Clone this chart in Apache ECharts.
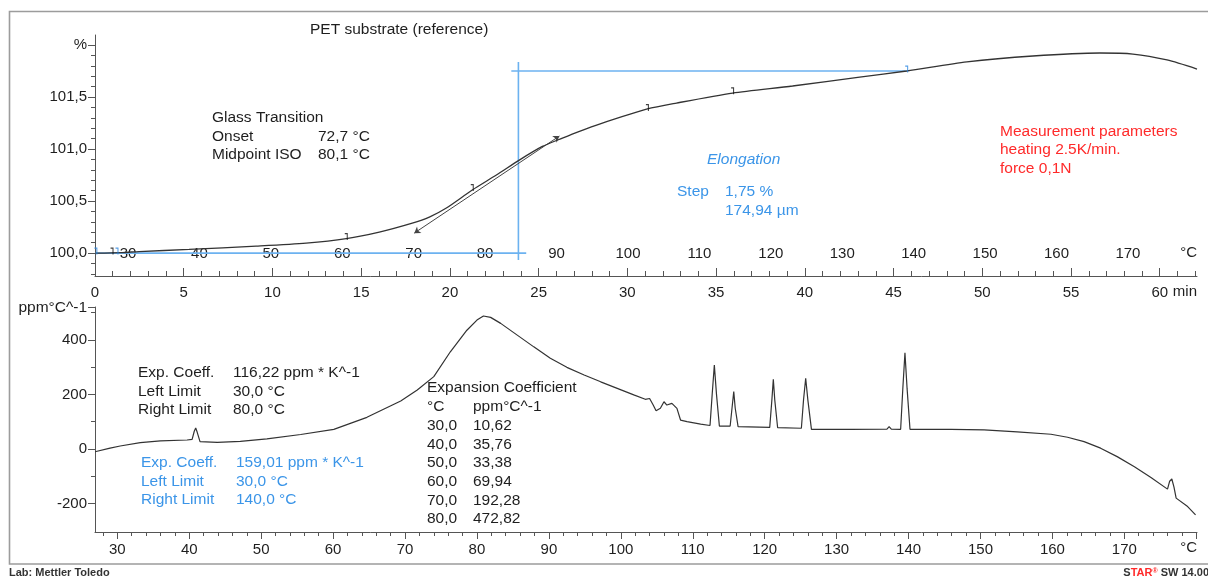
<!DOCTYPE html>
<html>
<head>
<meta charset="utf-8">
<script src="https://cdn.jsdelivr.net/npm/echarts@6/dist/echarts.min.js"></script>
<style>
  html, body { margin: 0; padding: 0; background: #fff; }
  #chart { width: 1208px; height: 578px; }
</style>
</head>
<body>
<div id="chart"></div>
<script>
// ---- Dilatometry curve: length change (%) against time (min) ----
const elongTime  = [0.00, 1.52, 2.48, 5.30, 9.08, 11.90, 14.16, 16.02, 17.88, 18.84, 19.80, 21.26, 22.62, 23.91, 25.21, 26.34, 27.30, 28.43, 31.13, 32.77, 35.93, 39.31, 43.09, 45.74, 49.13, 52.85, 56.63, 58.49, 60.41, 62.10];
const elongValue = [100.000, 100.005, 100.015, 100.035, 100.067, 100.096, 100.139, 100.202, 100.288, 100.346, 100.433, 100.606, 100.750, 100.894, 101.025, 101.105, 101.170, 101.240, 101.385, 101.442, 101.538, 101.606, 101.692, 101.750, 101.837, 101.894, 101.923, 101.913, 101.856, 101.769];

// ---- Expansion coefficient (ppm/°C) against temperature (°C) ----
const coeffTemp  = [26.9, 29.0, 30.4, 33.2, 36.0, 39.7, 40.4, 40.7, 40.9, 41.1, 41.5, 43.9, 47.1, 50.8, 55.5, 60.1, 64.7, 69.4, 71.7, 74.0, 76.3, 78.6, 80.0, 80.9, 81.9, 83.3, 85.6, 87.9, 90.2, 92.5, 94.9, 97.2, 99.5, 101.8, 103.4, 104.0, 104.5, 104.9, 105.5, 106.0, 106.4, 107.1, 107.8, 108.3, 109.2, 111.1, 112.4, 112.7, 113.0, 113.3, 113.7, 115.2, 115.5, 115.7, 115.9, 116.3, 120.7, 121.0, 121.2, 121.4, 121.8, 125.1, 125.4, 125.7, 126.0, 126.5, 131.9, 137.0, 137.3, 137.6, 138.9, 139.2, 139.5, 139.8, 140.2, 145.9, 150.5, 155.1, 159.8, 162.1, 164.4, 166.7, 169.0, 171.4, 173.7, 176.0, 176.3, 176.6, 176.9, 177.2, 178.8, 179.9];
const coeffValue = [-10, 3, 11, 23, 30, 33, 35, 65, 77, 62, 27, 24, 28, 37, 53, 72, 116, 176, 216, 265, 356, 435, 472, 487, 482, 460, 417, 374, 332, 299, 271, 246, 222, 198, 182, 185, 161, 140, 149, 173, 161, 167, 149, 106, 100, 91, 86, 200, 307, 200, 84, 84, 160, 210, 150, 82, 79, 180, 255, 180, 78, 76, 180, 259, 180, 72, 72, 73, 82, 73, 72, 220, 352, 220, 72, 72, 70, 63, 54, 43, 27, 3, -28, -65, -104, -147, -118, -110, -140, -180, -211, -241];

// ---- Evaluation markers on the length curve ----
const markBlackTime  = [0.96, 14.16, 21.26, 31.13, 35.93];
const markBlackValue = [100.02, 100.16, 100.63, 101.40, 101.56];
const markBlueTime   = [0.05, 1.24, 45.74];
const markBlueValue  = [100.02, 100.02, 101.77];

// ---- Step evaluation (1,75 %) ----
const stepLow = 100.0, stepHigh = 101.75, stepTime = 23.86;
const stepLowEnd = 24.3, stepHighStart = 23.46, stepHighEnd = 45.74;
// inflection tangent
const tangentTime  = [17.99, 26.17];
const tangentValue = [100.192, 101.125];

// ---- Tick values ----
const timeLabels   = [0, 5, 10, 15, 20, 25, 30, 35, 40, 45, 50, 55, 60];
const timeMinor    = [1,2,3,4,6,7,8,9,11,12,13,14,16,17,18,19,21,22,23,24,26,27,28,29,31,32,33,34,36,37,38,39,41,42,43,44,46,47,48,49,51,52,53,54,56,57,58,59,61,62];
const pctLabels    = [100.0, 100.5, 101.0, 101.5, 102.0];
const pctMinor     = [99.8, 99.9, 100.1, 100.2, 100.3, 100.4, 100.6, 100.7, 100.8, 100.9, 101.1, 101.2, 101.3, 101.4, 101.6, 101.7, 101.8, 101.9];
const tempLabelsTop = [30, 40, 50, 60, 70, 80, 90, 100, 110, 120, 130, 140, 150, 160, 170];
const tempLabels   = [30, 40, 50, 60, 70, 80, 90, 100, 110, 120, 130, 140, 150, 160, 170];
const tempMajorTicks = [30, 40, 50, 60, 70, 80, 90, 100, 110, 120, 130, 140, 150, 160, 170, 180];
const tempMinor    = [28,32,34,36,38,42,44,46,48,52,54,56,58,62,64,66,68,72,74,76,78,82,84,86,88,92,94,96,98,102,104,106,108,112,114,116,118,122,124,126,128,132,134,136,138,142,144,146,148,152,154,156,158,162,164,166,168,172,174,176,178];
const ppmLabels    = [-200, 0, 200, 400];
const ppmMajorTicks = [-200, 0, 200, 400, 520];
const ppmMinor     = [-100, 100, 300, 500];

// ---- Table of evaluated coefficients ----
const tableTemp  = ['30,0', '40,0', '50,0', '60,0', '70,0', '80,0'];
const tableCoeff = ['10,62', '35,76', '33,38', '69,94', '192,28', '472,82'];

const FONT = '"Liberation Sans", Arial, Helvetica, sans-serif';
const AXIS_COLOR = '#555';
const TEXT_COLOR = '#1e1e1e';
const BLUE_TEXT = '#3b95e8';
const BLUE_LINE = '#6cb2f0';
const RED_TEXT = '#ff2a2a';
const NOTE_SIZE = 15.5;

const pairs = (xs, ys) => xs.map((x, i) => [x, ys[i]]);
const comma = (v, d) => v.toFixed(d).replace('.', ',');

const chart = echarts.init(document.getElementById('chart'), null, { renderer: 'canvas' });

const labelStyle = { color: TEXT_COLOR, fontFamily: FONT, fontSize: 15 };

// an axis that only contributes tick marks
function tickAxis(base, ticks, len, inside) {
  return Object.assign({
    type: 'value',
    splitLine: { show: false },
    axisLine: { show: false, onZero: false },
    axisLabel: { show: false },
    axisTick: { show: true, customValues: ticks, length: len, inside: !!inside, lineStyle: { color: AXIS_COLOR, width: 1 } }
  }, base);
}

const T_TOP_MIN = 25.38, T_TOP_MAX = 179.67;

const option = {
  backgroundColor: '#ffffff',
  animation: false,
  grid: [
    { left: 95, right: 11, top: 35, height: 241 },
    { left: 95, right: 11, top: 307, height: 225 }
  ],
  xAxis: [
    // 0: time axis of the length curve
    {
      type: 'value', gridIndex: 0, position: 'bottom', min: 0, max: 62.1,
      splitLine: { show: false },
      axisLine: { show: true, onZero: false, lineStyle: { color: AXIS_COLOR, width: 1 } },
      axisTick: { show: true, customValues: timeLabels, inside: true, length: 8, lineStyle: { color: AXIS_COLOR } },
      axisLabel: Object.assign({ customValues: timeLabels, margin: 9 }, labelStyle)
    },
    // 1: temperature labels drawn inside the upper plot
    {
      type: 'value', gridIndex: 0, position: 'bottom', min: T_TOP_MIN, max: T_TOP_MAX,
      splitLine: { show: false },
      axisLine: { show: false, onZero: false },
      axisTick: { show: false },
      axisLabel: Object.assign({ customValues: tempLabelsTop, inside: true, margin: 15 }, labelStyle)
    },
    // 2: minor time ticks
    tickAxis({ gridIndex: 0, position: 'bottom', min: 0, max: 62.1 }, timeMinor, 5, true),
    // 3: temperature axis of the coefficient curve
    {
      type: 'value', gridIndex: 1, position: 'bottom', min: 26.9, max: 180.1,
      splitLine: { show: false },
      axisLine: { show: true, onZero: false, lineStyle: { color: AXIS_COLOR, width: 1 } },
      axisTick: { show: true, customValues: tempMajorTicks, length: 7, lineStyle: { color: AXIS_COLOR } },
      axisLabel: Object.assign({ customValues: tempLabels, margin: 10 }, labelStyle)
    },
    // 4: minor temperature ticks
    tickAxis({ gridIndex: 1, position: 'bottom', min: 26.9, max: 180.1 }, tempMinor, 4, false)
  ],
  yAxis: [
    // 0: length change in %
    {
      type: 'value', gridIndex: 0, position: 'left', min: 99.78, max: 102.096,
      splitLine: { show: false },
      axisLine: { show: true, onZero: false, lineStyle: { color: AXIS_COLOR, width: 1 } },
      axisTick: { show: true, customValues: pctLabels, length: 7, lineStyle: { color: AXIS_COLOR } },
      axisLabel: Object.assign({
        customValues: pctLabels, margin: 8,
        formatter: v => (Math.abs(v - 102) < 1e-6 ? '%' : comma(v, 1))
      }, labelStyle)
    },
    // 1: minor % ticks
    tickAxis({ gridIndex: 0, position: 'left', min: 99.78, max: 102.096 }, pctMinor, 4, false),
    // 2: expansion coefficient
    {
      type: 'value', gridIndex: 1, position: 'left', min: -304, max: 520,
      splitLine: { show: false },
      axisLine: { show: true, onZero: false, lineStyle: { color: AXIS_COLOR, width: 1 } },
      axisTick: { show: true, customValues: ppmMajorTicks, length: 7, lineStyle: { color: AXIS_COLOR } },
      axisLabel: Object.assign({ customValues: ppmLabels, margin: 8 }, labelStyle)
    },
    // 3: minor coefficient ticks
    tickAxis({ gridIndex: 1, position: 'left', min: -304, max: 520 }, ppmMinor, 4, false)
  ],
  series: [
    {
      name: 'length change', type: 'line', xAxisIndex: 0, yAxisIndex: 0,
      data: pairs(elongTime, elongValue), showSymbol: false, smooth: 0.25,
      lineStyle: { color: '#333', width: 1.3 }, z: 3
    },
    {
      name: 'baseline', type: 'line', xAxisIndex: 0, yAxisIndex: 0,
      data: [[0, stepLow], [stepLowEnd, stepLow]], showSymbol: false,
      lineStyle: { color: BLUE_LINE, width: 1.6 }, z: 2
    },
    {
      name: 'step', type: 'line', xAxisIndex: 0, yAxisIndex: 0,
      data: [[stepTime, 101.837], [stepTime, 99.933]], showSymbol: false,
      lineStyle: { color: BLUE_LINE, width: 1.6 }, z: 2
    },
    {
      name: 'upper level', type: 'line', xAxisIndex: 0, yAxisIndex: 0,
      data: [[stepHighStart, stepHigh], [stepHighEnd, stepHigh]], showSymbol: false,
      lineStyle: { color: BLUE_LINE, width: 1.6 }, z: 2
    },
    {
      name: 'tangent', type: 'lines', coordinateSystem: 'cartesian2d', xAxisIndex: 0, yAxisIndex: 0,
      data: [{ coords: pairs(tangentTime, tangentValue) }],
      symbol: ['arrow', 'arrow'], symbolSize: 6,
      lineStyle: { color: '#444', width: 1, opacity: 1 }, z: 3
    },
    {
      name: 'limits', type: 'scatter', xAxisIndex: 0, yAxisIndex: 0,
      data: pairs(markBlackTime, markBlackValue),
      symbol: 'path://M0 0 L4 0 L4 8 L2.6 8 L2.6 1.4 L0 1.4 Z', symbolSize: [3, 7],
      itemStyle: { color: '#111' }, z: 4
    },
    {
      name: 'limits blue', type: 'scatter', xAxisIndex: 0, yAxisIndex: 0,
      data: pairs(markBlueTime, markBlueValue),
      symbol: 'path://M0 0 L4 0 L4 8 L2.6 8 L2.6 1.4 L0 1.4 Z', symbolSize: [3, 7],
      itemStyle: { color: '#2a86e0' }, z: 4
    },
    {
      name: 'expansion coefficient', type: 'line', xAxisIndex: 3, yAxisIndex: 2,
      data: pairs(coeffTemp, coeffValue), showSymbol: false, smooth: false,
      lineStyle: { color: '#333', width: 1.2 }, z: 3
    }
  ],
  graphic: buildTexts()
};

function txt(x, y, text, o) {
  o = o || {};
  return {
    type: 'text', z: 10, silent: true,
    style: {
      x: x, y: y, text: text,
      font: (o.style || '') + ' ' + (o.weight || '') + ' ' + (o.size || NOTE_SIZE) + 'px ' + FONT,
      fill: o.color || TEXT_COLOR,
      align: o.align || 'left', textAlign: o.align || 'left',
      verticalAlign: 'middle', textVerticalAlign: 'middle'
    }
  };
}

function buildTexts() {
  const els = [];
  // frame
  els.push({ type: 'rect', z: 0, silent: true, shape: { x: 9.5, y: 11.5, width: 1210, height: 552.5 },
             style: { fill: 'none', stroke: '#9c9c9c', lineWidth: 1.6 } });
  els.push(txt(310, 30, 'PET substrate (reference)'));
  // glass transition
  els.push(txt(212, 118, 'Glass Transition'));
  els.push(txt(212, 137, 'Onset'));
  els.push(txt(318, 137, '72,7 °C'));
  els.push(txt(212, 155, 'Midpoint ISO'));
  els.push(txt(318, 155, '80,1 °C'));
  // elongation step
  els.push(txt(707, 160, 'Elongation', { color: BLUE_TEXT, style: 'italic' }));
  els.push(txt(677, 192, 'Step', { color: BLUE_TEXT }));
  els.push(txt(725, 192, '1,75 %', { color: BLUE_TEXT }));
  els.push(txt(725, 211, '174,94 µm', { color: BLUE_TEXT }));
  // measurement parameters
  els.push(txt(1000, 132, 'Measurement parameters', { color: RED_TEXT }));
  els.push(txt(1000, 150, 'heating 2.5K/min.', { color: RED_TEXT }));
  els.push(txt(1000, 169, 'force 0,1N', { color: RED_TEXT }));
  // unit labels
  els.push(txt(1197, 292, 'min', { align: 'right', size: 15 }));
  els.push(txt(1197, 253, '°C', { align: 'right', size: 15 }));
  els.push(txt(1197, 548, '°C', { align: 'right', size: 15 }));
  els.push(txt(87, 308, 'ppm°C^-1', { align: 'right', size: 15.5 }));
  // mean coefficient 30..80 °C
  els.push(txt(138, 373, 'Exp. Coeff.'));
  els.push(txt(233, 373, '116,22 ppm * K^-1'));
  els.push(txt(138, 392, 'Left Limit'));
  els.push(txt(233, 392, '30,0 °C'));
  els.push(txt(138, 410, 'Right Limit'));
  els.push(txt(233, 410, '80,0 °C'));
  // mean coefficient 30..140 °C
  els.push(txt(141, 463, 'Exp. Coeff.', { color: BLUE_TEXT }));
  els.push(txt(236, 463, '159,01 ppm * K^-1', { color: BLUE_TEXT }));
  els.push(txt(141, 482, 'Left Limit', { color: BLUE_TEXT }));
  els.push(txt(236, 482, '30,0 °C', { color: BLUE_TEXT }));
  els.push(txt(141, 500, 'Right Limit', { color: BLUE_TEXT }));
  els.push(txt(236, 500, '140,0 °C', { color: BLUE_TEXT }));
  // table
  els.push(txt(427, 388, 'Expansion Coefficient'));
  els.push(txt(427, 407, '°C'));
  els.push(txt(473, 407, 'ppm°C^-1'));
  tableTemp.forEach((t, i) => {
    els.push(txt(427, 426 + i * 18.6, t));
    els.push(txt(473, 426 + i * 18.6, tableCoeff[i]));
  });
  // footer
  els.push(txt(9, 573, 'Lab: Mettler Toledo', { size: 11, weight: 'bold', color: '#333' }));
  els.push({
    type: 'text', z: 10, silent: true,
    style: {
      x: 1209, y: 573, align: 'right', textAlign: 'right', verticalAlign: 'middle', textVerticalAlign: 'middle',
      text: '{a|S}{b|TAR}{c|®}{a| SW 14.00}',
      rich: {
        a: { fontFamily: FONT, fontSize: 11, fontWeight: 'bold', fill: '#333', color: '#333' },
        b: { fontFamily: FONT, fontSize: 11, fontWeight: 'bold', fill: '#ff2a2a', color: '#ff2a2a' },
        c: { fontFamily: FONT, fontSize: 7, fontWeight: 'bold', fill: '#ff2a2a', color: '#ff2a2a', verticalAlign: 'top' }
      }
    }
  });
  return els;
}

chart.setOption(option);
</script>
</body>
</html>
